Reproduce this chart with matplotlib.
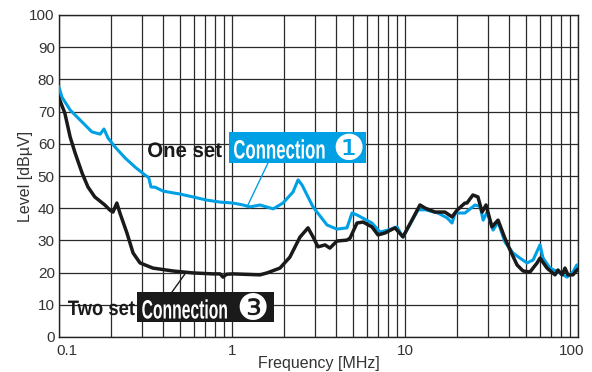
import matplotlib
matplotlib.use("Agg")
import matplotlib.pyplot as plt
import matplotlib.transforms as mtransforms
from matplotlib.transforms import Affine2D
from matplotlib.patches import Rectangle
from matplotlib.patheffects import AbstractPathEffect
from matplotlib.ticker import FixedLocator, NullFormatter

# ---- data ----
blue_freq = [0.1, 0.104, 0.116, 0.129, 0.155, 0.173, 0.182, 0.192, 0.211, 0.241, 0.275, 0.314,
             0.33, 0.34, 0.36, 0.4, 0.5, 0.595, 0.717, 0.852, 1.014, 1.158, 1.27, 1.45, 1.73,
             1.97, 2.25, 2.41, 2.54, 2.94, 3.54, 4.04, 4.62, 4.94, 5.28, 6.44, 7.17, 7.97,
             8.99, 9.73, 11.9, 13.1, 15.5, 17.5, 18.7, 19.5, 22.2, 25.4, 27.2, 28.3, 29.8,
             32.3, 34.5, 37.8, 42.1, 46.2, 50.7, 55.0, 60.3, 62.8, 68.9, 78.7, 86.4, 93.5,
             98.6, 100]
blue_level = [77.6, 74.5, 70.5, 68.0, 63.7, 63.0, 64.6, 61.8, 59.0, 55.6, 52.8, 50.3,
              49.5, 46.6, 46.5, 45.3, 44.4, 43.5, 42.5, 41.9, 41.6, 41.0, 40.4, 41.0, 39.8,
              41.6, 45.0, 48.8, 47.2, 40.4, 34.8, 33.5, 33.9, 38.5, 37.9, 35.4, 32.6, 33.2,
              34.2, 31.0, 39.5, 39.5, 38.5, 37.0, 35.4, 38.5, 38.5, 41.0, 40.5, 36.3, 38.8,
              33.2, 35.7, 29.5, 26.1, 24.5, 23.0, 23.9, 28.6, 24.5, 21.4, 19.9, 18.6, 20.2,
              22.4, 21.5]

black_freq = [0.1, 0.108, 0.116, 0.124, 0.136, 0.147, 0.161, 0.184, 0.197, 0.205, 0.216, 0.225,
              0.247, 0.268, 0.294, 0.349, 0.456, 0.595, 0.777, 0.852, 0.887, 0.93, 1.014, 1.45,
              1.594, 1.893, 2.16, 2.47, 2.75, 2.94, 3.14, 3.45, 3.68, 4.04, 4.62, 4.81, 5.28,
              5.72, 6.44, 6.98, 7.66, 8.75, 9.73, 10.97, 12.2, 13.1, 14.9, 17.0, 18.7, 20.0,
              22.2, 22.8, 24.7, 26.4, 27.9, 29.4, 31.8, 34.5, 37.8, 40.5, 44.4, 48.1, 52.8,
              58.0, 60.3, 66.2, 73.6, 76.6, 80.9, 84.1, 87.5, 93.5, 98.6, 100]
black_level = [74.2, 69.6, 62.1, 57.1, 50.9, 46.6, 43.5, 41.0, 39.4, 38.8, 41.6, 38.5,
               32.3, 26.1, 23.0, 21.4, 20.5, 19.9, 19.6, 19.6, 18.6, 19.5, 19.6, 19.3,
               19.9, 21.4, 24.8, 31.0, 33.9, 31.1, 28.0, 28.6, 27.6, 29.8, 30.1, 30.7, 35.4,
               35.7, 34.2, 31.7, 32.3, 33.9, 31.1, 36.3, 41.0, 40.0, 38.8, 38.8, 37.3, 39.4,
               41.6, 41.6, 44.1, 43.5, 38.8, 41.0, 34.2, 36.3, 30.7, 27.0, 22.4, 20.5, 20.2,
               23.0, 24.5, 21.4, 19.3, 20.8, 19.3, 21.4, 19.3, 19.3, 20.8, 21.0]

x_ticks = [0.1, 1, 10, 100]
x_tick_labels = ["0.1", "1", "10", "100"]
y_ticks = list(range(0, 101, 10))

BLUE = "#00a0e4"
BLACK = "#1a1a1a"
TXT = "#333333"

W, H = 592, 372
CAP = 0.716  # cap height / em of Liberation Sans
plt.rcParams['font.family'] = ['Liberation Sans', 'DejaVu Sans']


class VStretch(AbstractPathEffect):
    """Stretch text glyphs vertically about their baseline (display pixels)."""
    def __init__(self, sy, cy):
        super().__init__()
        self.sy = sy
        self.cy = cy

    def draw_path(self, renderer, gc, tpath, affine, rgbFace=None):
        t = affine + Affine2D().translate(0, -self.cy).scale(1, self.sy).translate(0, self.cy)
        renderer.draw_path(gc, tpath, t, rgbFace)


fig = plt.figure(figsize=(W / 100, H / 100), dpi=100)
ax = fig.add_axes([59 / W, (H - 337) / H, (578 - 59) / W, (337 - 15) / H])

ax.set_xscale('log')
ax.set_xlim(0.1, 100)
ax.set_ylim(0, 100)

minor = [m * 10.0 ** e for e in (-1, 0, 1) for m in range(2, 10)]
ax.xaxis.set_major_locator(FixedLocator(x_ticks))
ax.xaxis.set_minor_locator(FixedLocator(minor))
ax.xaxis.set_minor_formatter(NullFormatter())
ax.set_xticks(x_ticks)
ax.set_xticklabels(x_tick_labels)
ax.set_yticks(y_ticks)
ax.set_yticklabels([str(v) for v in y_ticks])

ax.grid(True, which='both', axis='x', color='#2a2a2a', lw=0.9)
ax.grid(True, which='major', axis='y', color='#2a2a2a', lw=0.9)
ax.set_axisbelow(True)
ax.tick_params(which='both', length=0, labelsize=11, labelcolor=TXT)
ax.tick_params(axis='x', pad=5)
ax.tick_params(axis='y', pad=3)
for s in ax.spines.values():
    s.set_color('#222222')
    s.set_linewidth(1.0)

labels = ax.get_xticklabels()
labels[0].set_transform(labels[0].get_transform() + mtransforms.ScaledTranslation(8 / 100, 0, fig.dpi_scale_trans))
labels[-1].set_transform(labels[-1].get_transform() + mtransforms.ScaledTranslation(-6 / 100, 0, fig.dpi_scale_trans))

ax.plot(blue_freq, blue_level, color=BLUE, lw=2.2, zorder=3, solid_joinstyle='round')
ax.plot(black_freq, black_level, color=BLACK, lw=2.5, zorder=4, solid_joinstyle='round')

ax.set_xlabel("Frequency [MHz]", fontsize=11.5, color=TXT)
ax.xaxis.label.set_va('baseline')
ax.xaxis.set_label_coords(0.5, (337 - 368) / 322)
ax.set_ylabel("Level [dBµV]", fontsize=11.5, color=TXT)
ax.yaxis.set_label_coords((33 - 59) / 519, 0.5)

# annotation boxes
fig.patches.append(Rectangle((229 / W, (H - 163) / H), 137 / W, 31 / H,
                             transform=fig.transFigure, facecolor=BLUE, edgecolor='none', zorder=5))
fig.patches.append(Rectangle((137 / W, (H - 322) / H), 137 / W, 30 / H,
                             transform=fig.transFigure, facecolor=BLACK, edgecolor='none', zorder=5))

renderer = fig.canvas.get_renderer()


def condensed_text(x_px, baseline_px, s, width_px, cap_px, ha, **kw):
    """Real text sized to a target width, glyphs stretched to a target cap height."""
    t = fig.text(x_px / W, (H - baseline_px) / H, s, ha=ha, va='baseline', fontsize=10, **kw)
    w10 = t.get_window_extent(renderer=renderer).width
    fs = 10 * width_px / w10
    t.set_fontsize(fs)
    sy = cap_px / (CAP * fs * 100 / 72)
    t.set_path_effects([VStretch(sy, H - baseline_px)])
    return t


condensed_text(279, 158.5, "Connection", 92, 19, 'center', color='white',
               fontweight='bold', zorder=6)
condensed_text(185, 318.5, "Connection", 86, 19, 'center', color='white',
               fontweight='bold', zorder=6)
condensed_text(222, 157, "One set", 75, 15, 'right', color=BLACK, fontweight='bold')
condensed_text(135, 315, "Two set", 67, 15, 'right', color=BLACK, fontweight='bold')

fig.text(349 / W, (H - 150) / H, "\u2776", color='white', fontsize=26, family='DejaVu Sans',
         ha='center', va='center', zorder=6)
fig.text(252.5 / W, (H - 309.5) / H, "\u2778", color='white', fontsize=26, family='DejaVu Sans',
         ha='center', va='center', zorder=6)

# leader lines
ax.annotate("", xy=(1.221, 40.4), xycoords='data',
            xytext=(268 / W, (H - 163) / H), textcoords='figure fraction',
            arrowprops=dict(arrowstyle='-', color=BLUE, lw=1.0, shrinkA=0, shrinkB=0))
ax.annotate("", xy=(0.535, 19.6), xycoords='data',
            xytext=(172 / W, (H - 292) / H), textcoords='figure fraction',
            arrowprops=dict(arrowstyle='-', color=BLACK, lw=1.0, shrinkA=0, shrinkB=0))

fig.savefig("out.png", dpi=100)
